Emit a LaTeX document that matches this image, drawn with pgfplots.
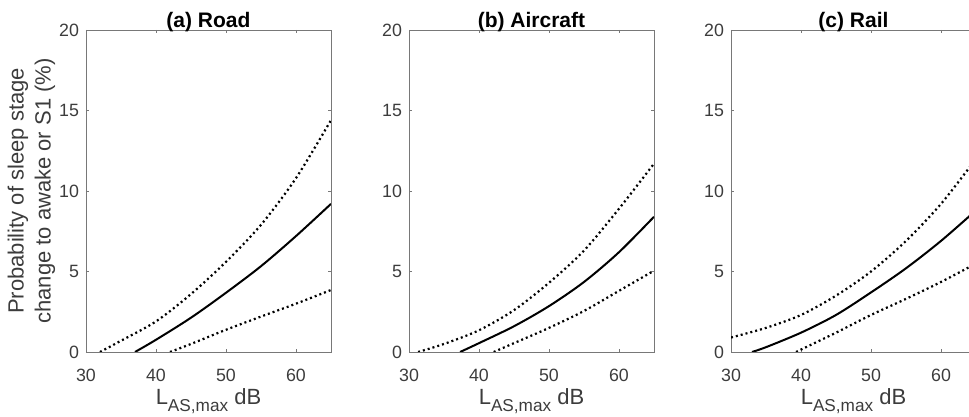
\documentclass[border=0pt]{standalone}
\usepackage{fontspec}
\setmainfont{Liberation Sans}
\usepackage{pgfplots}
\pgfplotsset{compat=1.18}

\definecolor{axgray}{RGB}{120,120,120}
\definecolor{txtgray}{RGB}{60,60,60}

\pgfplotsset{
  panel/.style={
    scale only axis, width=122.5pt, height=161pt,
    anchor=south west,
    xmin=30, xmax=65, ymin=0, ymax=20,
    xtick={30,40,50,60}, ytick={0,5,10,15,20},
    axis line style={axgray, line width=0.45pt},
    tick style={axgray, line width=0.45pt},
    major tick length=1.6pt,
    tick align=inside,
    /pgf/number format/assume math mode=true,
    ticklabel style={font=\fontsize{8.9}{9.5}\selectfont, text=txtgray},
    xticklabel style={yshift=-5pt},
    xlabel={L\raisebox{-3.3pt}{\fontsize{8.6}{10}\selectfont AS,max} dB},
    xlabel style={at={(axis description cs:0.5,0)}, anchor=base, yshift=-26.5pt},
    label style={font=\fontsize{11}{13.5}\selectfont, text=txtgray},
    title style={font=\bfseries\fontsize{10.5}{12}\selectfont,
                 at={(axis description cs:0.5,1)}, anchor=base, yshift=-4.6pt},
  },
  est/.style={black, line width=1pt, smooth},
  ci/.style={black, line width=1.1pt, dash pattern=on 1pt off 1.5pt, smooth},
}

\begin{document}
\begin{tikzpicture}

% (a) road
\begin{axis}[panel, at={(0pt,0pt)}, title={(a) Road},
    ylabel={Probability of sleep stage\\change to awake or S1 (\%)},
    ylabel style={align=center, at={(axis description cs:-0.2224,0.5)}, anchor=center}]
\addplot[ci] coordinates {(32,0) (35,0.7) (40,1.9) (45,3.6) (50,5.6) (55,7.9) (60,10.8) (65,14.4)};
\addplot[est] coordinates {(37,0) (40,0.76) (45,2.13) (50,3.68) (55,5.33) (60,7.2) (65,9.2)};
\addplot[ci] coordinates {(42,0) (45,0.5) (50,1.38) (55,2.2) (60,3.0) (65,3.85)};
\end{axis}

% (b) aircraft
\begin{axis}[panel, at={(161.5pt,0pt)}, title={(b) Aircraft}]
\addplot[ci] coordinates {(31.3,0) (35,0.5) (40,1.35) (45,2.6) (50,4.3) (55,6.3) (60,8.9) (65,11.7)};
\addplot[est] coordinates {(37.3,0) (40,0.55) (45,1.6) (50,2.85) (55,4.35) (60,6.2) (65,8.4)};
\addplot[ci] coordinates {(42.1,0) (45,0.55) (50,1.5) (55,2.55) (60,3.8) (65,5.05)};
\end{axis}

% (c) rail
\begin{axis}[panel, at={(322.5pt,0pt)}, title={(c) Rail}]
\addplot[ci] coordinates {(30,0.9) (35,1.5) (40,2.3) (45,3.5) (50,5.0) (55,6.9) (60,9.2) (65,12.0)};
\addplot[est] coordinates {(33,0) (35,0.3) (40,1.2) (45,2.3) (50,3.7) (55,5.2) (60,6.9) (65,8.8)};
\addplot[ci] coordinates {(39.3,0) (40,0.15) (45,1.2) (50,2.3) (55,3.3) (60,4.35) (65,5.5)};
\end{axis}

\pgfresetboundingbox
\useasboundingbox (-43pt,-32.5pt) rectangle (441.5pt,176pt);
\end{tikzpicture}
\end{document}
